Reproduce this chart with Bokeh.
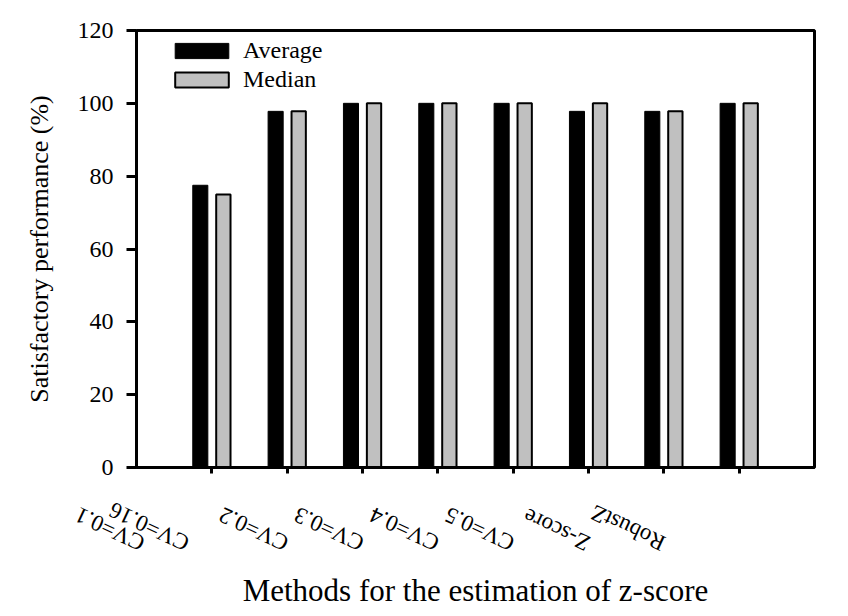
import math
import numpy as np
from bokeh.plotting import figure
from bokeh.models import (ColumnDataSource, Legend, LegendItem, LinearAxis,
                          FixedTicker, Range1d)
from bokeh.embed import file_html
from bokeh.resources import INLINE

# ---- data ----
categories = ["CV=0.1", "CV=0.16", "CV=0.2", "CV=0.3", "CV=0.4", "CV=0.5", "Z-score", "RobustZ"]
average = [77.5, 97.8, 100, 100, 100, 97.8, 97.8, 100]
median = [75.0, 97.8, 100, 100, 100, 100, 97.8, 100]
y_ticks = [0, 20, 40, 60, 80, 100, 120]
x_title = "Methods for the estimation of z-score"
y_title = "Satisfactory performance (%)"
series_names = ["Average", "Median"]

FONT = "Liberation Serif"
n = len(categories)
pos = np.arange(1, n + 1)

W, H = 848, 616
p = figure(width=W, height=H, output_backend="svg", toolbar_location=None,
           x_range=Range1d(0, n + 1), y_range=Range1d(0, 120),
           min_border_left=136, min_border_right=34, min_border_top=30,
           min_border_bottom=149)
p.xgrid.visible = False
p.ygrid.visible = False
p.outline_line_color = "black"
p.outline_line_width = 3
p.background_fill_color = "white"
p.border_fill_color = "white"

src = ColumnDataSource(dict(xa=pos - 0.153, xm=pos + 0.153, avg=average, med=median))
r1 = p.vbar(x="xa", top="avg", width=0.2, source=src, fill_color="black", line_color="black", line_width=1)
r2 = p.vbar(x="xm", top="med", width=0.19, source=src, fill_color="#C0C0C0", line_color="black", line_width=2)

# y axis
yax = p.yaxis[0]
yax.ticker = FixedTicker(ticks=y_ticks)
yax.minor_tick_line_color = None
yax.major_tick_in = 0
yax.major_tick_out = 10
yax.major_tick_line_width = 3
yax.axis_line_width = 3
yax.major_label_standoff = 13
yax.major_label_text_font = FONT
yax.major_label_text_font_size = "24px"
yax.major_label_text_color = "black"
yax.axis_label = y_title
yax.axis_label_text_font = FONT
yax.axis_label_text_font_size = "26px"
yax.axis_label_text_font_style = "normal"
yax.axis_label_text_color = "black"
yax.axis_label_standoff = 21

# x axis: tick marks only
xax = p.xaxis[0]
xax.ticker = FixedTicker(ticks=[int(v) for v in pos])
xax.minor_tick_line_color = None
xax.major_tick_in = 0
xax.major_tick_out = 6
xax.major_tick_line_width = 3
xax.axis_line_width = 3
xax.major_label_overrides = {int(k): "" for k in pos}
xax.major_label_text_font_size = "0px"
xax.major_label_standoff = 0

# second x axis: rotated category labels (shifted as in the original)
label_x = [float(v) for v in np.arange(n)]
label_x[0] += 0.09
label_x[1] -= 0.32
lab_ax = LinearAxis(ticker=FixedTicker(ticks=label_x),
                    major_label_overrides={label_x[i]: categories[i] for i in range(n)},
                    major_label_orientation=-205 * math.pi / 180,
                    major_label_text_font=FONT, major_label_text_font_size="23px",
                    major_label_text_color="black",
                    major_tick_in=0, major_tick_out=0, minor_tick_line_color=None,
                    major_tick_line_color=None, axis_line_color=None,
                    major_label_standoff=71)
lab_ax.axis_label = x_title
lab_ax.axis_label_text_font = FONT
lab_ax.axis_label_text_font_size = "31px"
lab_ax.axis_label_text_font_style = "normal"
lab_ax.axis_label_text_color = "black"
lab_ax.axis_label_standoff = -33
p.add_layout(lab_ax, "below")

legend = Legend(items=[LegendItem(label=series_names[0], renderers=[r1]),
                       LegendItem(label=series_names[1], renderers=[r2])],
                location=(32, 374), orientation="vertical",
                glyph_width=67, glyph_height=19, label_height=19, spacing=2,
                padding=0, margin=0, label_standoff=8,
                label_text_font=FONT, label_text_font_size="24px",
                label_text_color="black",
                border_line_alpha=0, background_fill_alpha=0)
p.add_layout(legend)

open("out.html", "w").write(file_html(p, INLINE))
